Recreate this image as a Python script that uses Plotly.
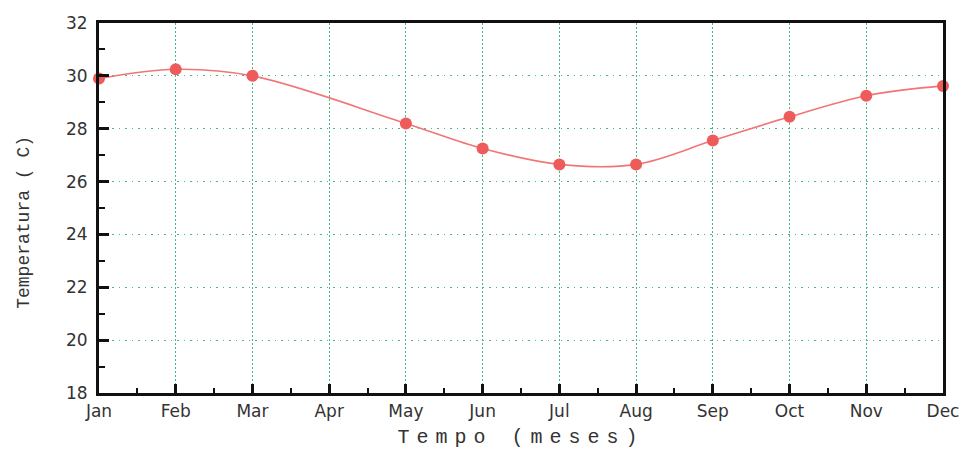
import plotly.graph_objects as go

month_labels = ["Jan", "Feb", "Mar", "Apr", "May", "Jun", "Jul", "Aug", "Sep", "Oct", "Nov", "Dec"]
data_months = ["Jan", "Feb", "Mar", "May", "Jun", "Jul", "Aug", "Sep", "Oct", "Nov", "Dec"]
temperatures = [29.9, 30.25, 30.0, 28.2, 27.25, 26.65, 26.65, 27.55, 28.45, 29.25, 29.62]
y_ticks = [18, 20, 22, 24, 26, 28, 30, 32]

x_pos = [month_labels.index(m) for m in data_months]

fig = go.Figure()
fig.add_trace(go.Scatter(
    x=x_pos, y=temperatures, mode="lines+markers",
    line=dict(color="#f27575", width=1.6, shape="spline", smoothing=1.0),
    marker=dict(symbol="circle", size=12, color="#ee5b5b", line=dict(width=0)),
    cliponaxis=False, showlegend=False,
))

tick_font = dict(family="DejaVu Sans, Verdana, sans-serif", size=17, color="#333333")
grid_color = "#45b883"

fig.update_layout(
    width=966, height=451,
    margin=dict(l=99, r=23, t=23, b=58, autoexpand=False),
    paper_bgcolor="white", plot_bgcolor="white",
    xaxis=dict(
        range=[0, 11], tickmode="array", automargin=False,
        tickvals=list(range(len(month_labels))), ticktext=month_labels,
        ticks="inside", ticklen=9, tickwidth=2.5, tickcolor="#111111",
        showline=True, linecolor="#111111", linewidth=3, mirror=True,
        showgrid=True, gridcolor=grid_color, griddash="1.5px,2.5px", gridwidth=1.2,
        zeroline=False, tickfont=tick_font, ticklabelstandoff=1,
        minor=dict(ticks="inside", ticklen=5, tickwidth=2, tickcolor="#111111",
                   tick0=0.5, dtick=1, showgrid=False),
        title=dict(text="Tempo (meses)",
                   font=dict(family="Courier New, Liberation Mono, monospace", size=20, color="#333333"),
                   standoff=9),
    ),
    yaxis=dict(
        range=[18, 32], tickmode="array", tickvals=y_ticks, automargin=False,
        ticks="inside", ticklen=10, tickwidth=2.5, tickcolor="#111111",
        showline=True, linecolor="#111111", linewidth=3, mirror=True,
        showgrid=True, gridcolor=grid_color, griddash="1.5px,5px", gridwidth=1.2,
        zeroline=False, tickfont=tick_font, ticklabelstandoff=5,
        minor=dict(ticks="inside", ticklen=6, tickwidth=2, tickcolor="#111111",
                   tick0=19, dtick=2, showgrid=False),
    ),
    annotations=[dict(
        text="Temperatura ( C)", textangle=-90,
        xref="paper", yref="paper", x=0, y=0.46, xshift=-75,
        xanchor="center", yanchor="middle", showarrow=False,
        font=dict(family="Courier New, Liberation Mono, monospace", size=18, color="#333333"),
    )],
)

post = """
(function(){
  document.body.style.margin = '0';
  var gd = document.getElementById('{plot_id}');
  function sp(){
    var t = gd.querySelectorAll('.g-xtitle text');
    t.forEach(function(e){ e.style.letterSpacing = '7px'; });
  }
  sp();
  if (gd.on) gd.on('plotly_afterplot', sp);
  setTimeout(sp, 50);
})();
"""
fig.write_html("out.html", post_script=post, config={"displayModeBar": False})
